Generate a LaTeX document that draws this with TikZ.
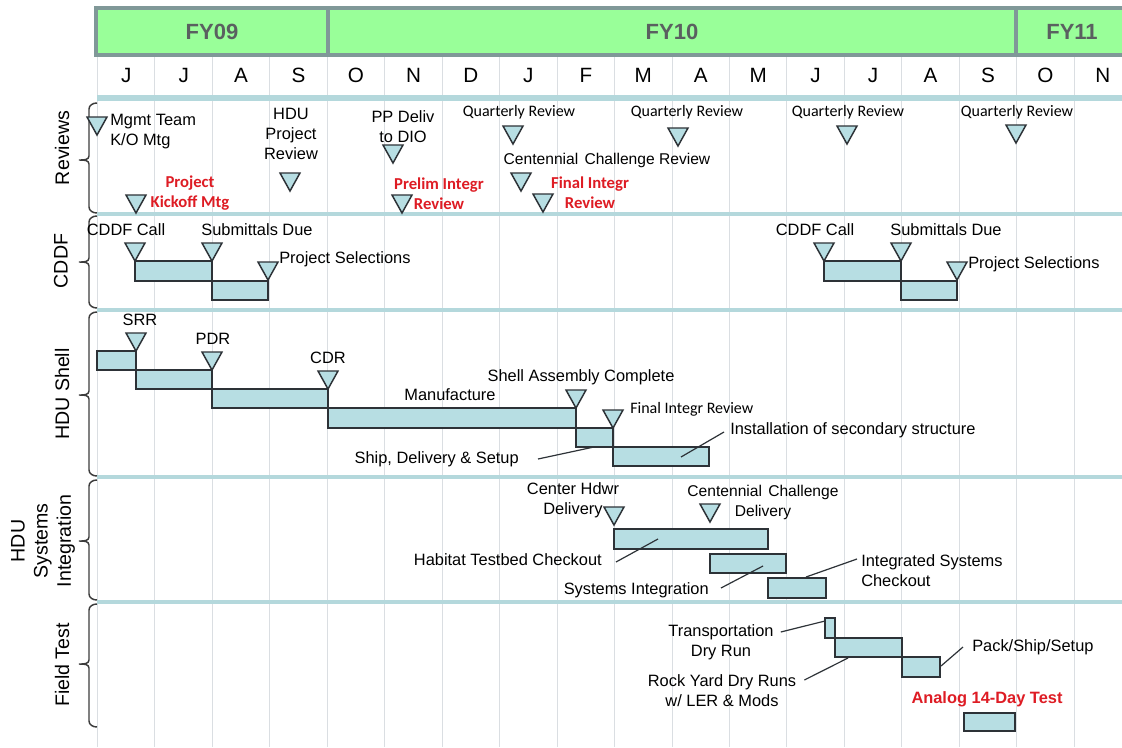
\documentclass[tikz,border=0pt]{standalone}
\usepackage{fontspec}
\setmainfont{Liberation Sans}
\newfontfamily\calibri{Carlito}
\usetikzlibrary{positioning,calc}
\definecolor{fygreen}{RGB}{153,255,153}
\definecolor{fyborder}{RGB}{128,152,152}
\definecolor{fytext}{RGB}{90,96,96}
\definecolor{barblue}{RGB}{183,222,227}
\definecolor{sepblue}{RGB}{180,216,220}
\definecolor{gridgray}{RGB}{218,222,226}
\definecolor{linedark}{RGB}{45,50,55}
\definecolor{bracegray}{RGB}{60,60,60}
\definecolor{alertred}{RGB}{222,28,36}

% milestone triangle, tip at (x,y)
\newcommand{\mstone}[2]{\draw[milestone] (#1,#2) -- ++(-10,-18) -- ++(20,0) -- cycle;}
% task bar from (x1,y1) to (x2,y2)
\newcommand{\gbar}[4]{\draw[taskbar] (#1,#2) rectangle (#3,#4);}
% row brace: top, bottom, tip
\newcommand{\rowbrace}[3]{\draw[bracket] (97,#1) to[out=180,in=90] (89,#1+6) -- (89,#3-4)
    to[out=270,in=0] (79,#3) to[out=0,in=90] (89,#3+4) -- (89,#2-6) to[out=270,in=180] (97,#2);}

\begin{document}
\begin{tikzpicture}[
    x=0.75pt, y=-0.75pt,
    lbl/.style={font=\fontsize{12.3}{15}\selectfont, inner sep=0pt, align=center},
    narrow/.style={lbl, font=\fontsize{11.7}{15}\selectfont},
    qrev/.style={lbl, font=\calibri\fontsize{12}{15}\selectfont},
    hot/.style={lbl, text=alertred, font=\calibri\bfseries\fontsize{12.5}{15}\selectfont},
    month/.style={font=\fontsize{15.5}{18}\selectfont, inner sep=0pt},
    fylabel/.style={font=\bfseries\fontsize{16.5}{19}\selectfont, text=fytext, inner sep=0pt},
    rowlabel/.style={rotate=90, font=\fontsize{14.7}{17.3}\selectfont, align=center, inner sep=0pt},
    milestone/.style={draw=linedark, fill=barblue, line width=1.1pt, line join=miter},
    taskbar/.style={draw=linedark, fill=barblue, line width=0.9pt},
    leader/.style={draw=linedark, line width=0.9pt},
    gridline/.style={draw=gridgray, line width=0.75pt},
    sepline/.style={draw=sepblue, line width=2.6pt},
    bracket/.style={draw=bracegray, line width=1.1pt}
]
    \useasboundingbox (0,0) rectangle (1122,747);
    \clip (0,0) rectangle (1122,747);
    \fill[white] (0,0) rectangle (1122,747);

    % Fiscal years
    \draw[fill=fygreen, draw=fyborder, line width=2.6pt] (96,8) rectangle (1140,55);
    \draw[fyborder, line width=2.6pt] (328,8) -- (328,55);
    \draw[fyborder, line width=2.6pt] (1016,8) -- (1016,55);
    \node[fylabel] (fy09) at (212,32) {FY09};
    \node[fylabel] (fy10) at (672,32) {FY10};
    \node[fylabel] (fy11) at (1072,32) {FY11};

    % Months and grid
    \foreach \k in {0,...,17}
        \draw[gridline] ({97.5+\k*57.45},57) -- ({97.5+\k*57.45},747);
    \foreach \m [count=\k from 0] in {J,J,A,S,O,N,D,J,F,M,A,M,J,J,A,S,O,N}
        \node[month] (mon\k) at ({97.5+(\k+0.5)*57.45},75) {\m};

    % Row separators
    \draw[sepline, line width=4.8pt] (97,98) -- (1122,98);
    \foreach \y in {214,310,477,602}
        \draw[sepline] (97,\y) -- (1122,\y);

    % Row labels
    \rowbrace{103}{213}{160}
    \rowbrace{216}{308}{262}
    \rowbrace{312}{476}{395}
    \rowbrace{480}{600}{541}
    \rowbrace{604}{727}{664}
    \node[rowlabel] (rowRev) at (62,148) {Reviews};
    \node[rowlabel] (rowCddf) at (61,261) {CDDF};
    \node[rowlabel] (rowShell) at (62,394) {HDU Shell};
    \node[rowlabel] (rowSys) at (43,541) {HDU\\Systems\\Integration};
    \node[rowlabel] (rowField) at (62,665) {Field Test};

    % Reviews
    \mstone{97}{135}
    \mstone{136}{213}
    \mstone{290}{191}
    \mstone{393}{163}
    \mstone{402}{213}
    \mstone{513}{144}
    \mstone{521}{191}
    \mstone{543}{212}
    \mstone{678}{146}
    \mstone{847}{144}
    \mstone{1016}{143}
    \node[lbl, anchor=west, align=left] (mgmt) at (110,131.5) {Mgmt Team\\K/O Mtg};
    \node[hot] (kickoff) at (190,193) {Project\\Kickoff Mtg};
    \node[lbl] (hdurev) at (291,134) {HDU\\Project\\Review};
    \node[lbl] (ppdeliv) at (403,127) {PP Deliv\\to DIO};
    \node[hot] (prelim) at (439,194) {Prelim Integr\\Review};
    \node[qrev] (qrA) at (519,112) {Quarterly Review};
    \node[narrow] (ccrev) at (607,160) {Centennial\hspace{0.4em}Challenge Review};
    \node[hot] (finalA) at (590,193) {Final Integr\\Review};
    \node[qrev] (qrB) at (687,112) {Quarterly Review};
    \node[qrev] (qrC) at (848,112) {Quarterly Review};
    \node[qrev] (qrD) at (1017,112) {Quarterly Review};

    % CDDF
    \gbar{135}{261}{212}{281}
    \gbar{212}{281}{268}{300}
    \gbar{824}{261}{901}{281}
    \gbar{901}{281}{957}{300}
    \mstone{135}{261}
    \mstone{212}{261}
    \mstone{268}{280}
    \mstone{824}{261}
    \mstone{901}{261}
    \mstone{957}{280}
    \node[lbl] (cddfA) at (126,230) {CDDF Call};
    \node[lbl] (subA) at (257,230) {Submittals Due};
    \node[lbl, anchor=west] (selA) at (279,259) {Project Selections};
    \node[lbl] (cddfB) at (815,230) {CDDF Call};
    \node[lbl] (subB) at (946,230) {Submittals Due};
    \node[lbl, anchor=west] (selB) at (968,264) {Project Selections};

    % HDU Shell
    \gbar{97}{351}{136}{370}
    \gbar{136}{370}{212}{389}
    \gbar{212}{389}{328}{408}
    \gbar{328}{408}{576}{428}
    \gbar{576}{428}{613}{447}
    \gbar{613}{447}{709}{466}
    \mstone{136}{351}
    \mstone{212}{370}
    \mstone{328}{389}
    \mstone{576}{408}
    \mstone{613}{428}
    \node[lbl] (srr) at (140,320) {SRR};
    \node[lbl] (pdr) at (213,339) {PDR};
    \node[lbl] (cdr) at (328,358) {CDR};
    \node[lbl] (manuf) at (450,395) {Manufacture};
    \node[lbl] (shell) at (581,377) {Shell Assembly Complete};
    \node[qrev, anchor=west] (finalB) at (630,409) {Final Integr Review};
    \node[lbl, anchor=west] (install) at (730,430) {Installation of secondary structure};
    \node[lbl, anchor=east] (ship) at (519,459) {Ship, Delivery \& Setup};
    \coordinate (bInstall) at (681,457);
    \coordinate (bShip) at (594,447);
    \draw[leader] ([shift={(-6,2)}]install.west) -- (bInstall);
    \draw[leader] ([shift={(19,0)}]ship.east) -- (bShip);

    % HDU Systems Integration
    \gbar{614}{529}{768}{549}
    \gbar{710}{554}{786}{573}
    \gbar{768}{578}{826}{598}
    \mstone{614}{525}
    \mstone{710}{522}
    \node[lbl] (chd) at (573,500) {Center Hdwr\\Delivery};
    \node[narrow] (ccd) at (763,502) {Centennial\hspace{0.4em}Challenge\\Delivery};
    \node[lbl, anchor=east] (habitat) at (602,560) {Habitat Testbed Checkout};
    \node[lbl, anchor=east] (sysint) at (709,590) {Systems Integration};
    \node[lbl, anchor=west, align=left] (isc) at (861,571) {Integrated Systems\\Checkout};
    \coordinate (bHabitat) at (658,539);
    \coordinate (bSysint) at (763,566);
    \coordinate (bIsc) at (806,577);
    \draw[leader] ([shift={(14,2)}]habitat.east) -- (bHabitat);
    \draw[leader] ([shift={(12,-2)}]sysint.east) -- (bSysint);
    \draw[leader] ([shift={(-4,-12)}]isc.west) -- (bIsc);

    % Field Test
    \gbar{825}{618}{835}{638}
    \gbar{835}{638}{902}{657}
    \gbar{902}{657}{940}{677}
    \gbar{964}{713}{1015}{731}
    \node[lbl] (tdr) at (721,642) {Transportation\\Dry Run};
    \node[lbl] (rydr) at (722,691) {Rock Yard Dry Runs\\w/ LER \& Mods};
    \node[lbl, anchor=west] (pss) at (972,647) {Pack/Ship/Setup};
    \node[lbl, text=alertred, font=\bfseries\fontsize{12.3}{15}\selectfont] (analog) at (987,699) {Analog 14-Day Test};
    \coordinate (bTdr) at (825,621);
    \coordinate (bRydr) at (848,658);
    \coordinate (bPss) at (941,666);
    \draw[leader] ([shift={(7,-10)}]tdr.east) -- (bTdr);
    \draw[leader] ([shift={(8,-11)}]rydr.east) -- (bRydr);
    \draw[leader] ([shift={(-9,0)}]pss.west) -- (bPss);
\end{tikzpicture}
\end{document}
